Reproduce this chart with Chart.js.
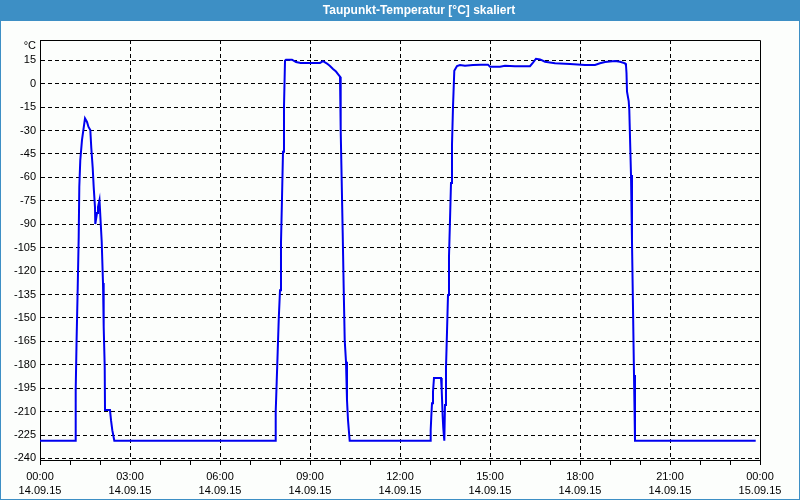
<!DOCTYPE html>
<html><head><meta charset="utf-8">
<script src="https://cdn.jsdelivr.net/npm/chart.js@4"></script>
<style>html,body{margin:0;padding:0;background:#fcfefc}#wrap{width:800px;height:500px;position:relative}</style>
</head><body><div id="wrap"><canvas id="c" width="800" height="500"></canvas></div>
<script>
const titleText = 'Taupunkt-Temperatur [°C] skaliert';
const unitLabel = '°C';

// time in hours since 14.09.15 00:00
const hours = [
  0, 1.19, 1.19, 1.22, 1.257, 1.29, 1.31, 1.343, 1.4, 1.5,
  1.567, 1.617, 1.677, 1.71, 1.757, 1.79, 1.833, 1.843, 1.9, 1.933,
  1.983, 2.057, 2.1, 2.123, 2.157, 2.167, 2.333, 2.367, 2.41, 2.477,
  7.857, 7.857, 7.89, 7.923, 7.957, 8.0, 8.033, 8.067, 8.1, 8.133,
  8.167, 8.2, 8.4, 8.533, 8.69, 9.333, 9.433, 9.567, 9.667, 9.767,
  9.867, 9.933, 10.0, 10.023, 10.057, 10.09, 10.123, 10.157, 10.2, 10.233,
  10.267, 10.323,
  13.023, 13.023, 13.043, 13.067, 13.1, 13.133, 13.367, 13.39, 13.423, 13.443,
  13.477, 13.5, 13.533, 13.567, 13.6, 13.633, 13.667, 13.7, 13.733, 13.767,
  13.81, 13.843, 13.9, 14.0, 14.167, 14.433, 14.7, 14.933, 15.0, 15.333,
  15.5, 15.833, 16.333, 16.433, 16.533, 16.667, 16.833, 17.167, 17.667, 18.167,
  18.5, 18.667, 18.833, 19.167, 19.333, 19.5, 19.533, 19.55, 19.567, 19.623,
  19.643, 19.7, 19.733, 19.767, 19.8, 19.833, 23.857
];
const dewpoint = [
  -228.7, -228.7, -196.2, -163.6, -130.9, -98, -66, -48.9, -36, -22.2,
  -24.5, -27.7, -29.7, -41.2, -54, -66.2, -79, -89.9, -82.8, -79,
  -74.5, -101.2, -127.7, -155.7, -181.3, -209, -209, -215.5, -221.9, -228.7,
  -228.7, -210.1, -190.9, -171.7, -151.4, -132.2, -102, -73.2, -43.6, -14.7,
  14.7, 15.4, 15.4, 13.9, 13.3, 13.3, 14.4, 12.9, 11.3, 9.4,
  7.8, 6.2, 4.5, -29.7, -62.8, -95.6, -130.9, -164.2, -178.1, -202.6,
  -215.5, -228.7,
  -228.7, -221.9, -213.3, -204.6, -197.3, -188.5, -188.5, -196.2, -213.3, -220.6,
  -228.6, -205.8, -182.1, -158.9, -135.4, -110.8, -87.3, -63.6, -39.3, -14.7,
  8.3, 9.4, 11.3, 12.0, 11.5, 12.0, 12.2, 12.2, 10.9, 10.9,
  11.5, 11.2, 11.2, 13.5, 16.0, 15.6, 14.1, 13.1, 12.6, 12.0,
  12.0, 13.1, 13.9, 14.6, 14.1, 13.1, 11.8, 6.9, -5.1, -11.1,
  -16.8, -58.5, -101.2, -143.9, -186.6, -228.7, -228.7
];

const yTickValues = [15, 0, -15, -30, -45, -60, -75, -90, -105, -120, -135, -150, -165, -180, -195, -210, -225, -240];
const xTickHours = [0,1,2,3,4,5,6,7,8,9,10,11,12,13,14,15,16,17,18,19,20,21,22,23,24];
const xTimeLabels = ['00:00','03:00','06:00','09:00','12:00','15:00','18:00','21:00','00:00'];
const xDateLabels = ['14.09.15','14.09.15','14.09.15','14.09.15','14.09.15','14.09.15','14.09.15','14.09.15','15.09.15'];

const BLUE = '#3d8fc5';
const tickFont = {family: '"Liberation Sans", Arial, sans-serif', size: 11, lineHeight: 1.3};

const framePlugin = {
  id: 'frame',
  beforeDraw(chart) {
    const ctx = chart.ctx;
    ctx.save();
    ctx.fillStyle = '#fcfefc';
    ctx.fillRect(0, 0, 800, 500);
    ctx.fillStyle = BLUE;
    ctx.fillRect(0, 0, 800, 21);
    ctx.strokeStyle = BLUE;
    ctx.lineWidth = 1;
    ctx.strokeRect(0.5, 0.5, 799, 499);
    ctx.fillStyle = '#ffffff';
    ctx.font = 'bold 12px "Liberation Sans", Arial, sans-serif';
    ctx.textAlign = 'center';
    ctx.textBaseline = 'middle';
    ctx.fillText(titleText, 419, 11);
    ctx.restore();
  },
  beforeDatasetsDraw(chart) {
    const {ctx, chartArea: a} = chart;
    ctx.save();
    ctx.strokeStyle = '#000';
    ctx.lineWidth = 1;
    ctx.setLineDash([]);
    ctx.beginPath();
    ctx.moveTo(Math.round(a.left) + 0.5, Math.round(a.top) + 0.5);
    ctx.lineTo(Math.round(a.right) + 0.5, Math.round(a.top) + 0.5);
    ctx.lineTo(Math.round(a.right) + 0.5, Math.round(a.bottom) + 0.5);
    ctx.stroke();
    ctx.fillStyle = '#000';
    ctx.font = '11px "Liberation Sans", Arial, sans-serif';
    ctx.textAlign = 'right';
    ctx.textBaseline = 'middle';
    ctx.fillText(unitLabel, a.left - 4, a.top + 6);
    ctx.restore();
  }
};

new Chart(document.getElementById('c'), {
  type: 'line',
  data: {
    datasets: [{
      data: hours.map((h, i) => ({x: h, y: dewpoint[i]})),
      borderColor: '#0000f0',
      borderWidth: 2,
      pointRadius: 0,
      tension: 0,
      fill: false
    }]
  },
  options: {
    responsive: false,
    animation: false,
    devicePixelRatio: 1,
    layout: {padding: {top: 40, right: 40, left: 0, bottom: 0}},
    plugins: {legend: {display: false}, tooltip: {enabled: false}, title: {display: false}},
    scales: {
      x: {
        type: 'linear', min: 0, max: 24,
        afterBuildTicks: s => { s.ticks = xTickHours.map(v => ({value: v})); },
        afterFit: s => { s.height = 40; },
        ticks: {
          autoSkip: false, maxRotation: 0, minRotation: 0, padding: 5,
          color: '#000', font: tickFont,
          callback: v => (v % 3 === 0) ? [xTimeLabels[v / 3], xDateLabels[v / 3]] : ''
        },
        grid: {
          color: c => (c.tick && c.tick.value % 3 === 0 && c.tick.value > 0 && c.tick.value < 24) ? '#000' : 'rgba(0,0,0,0)',
          tickColor: '#000', tickLength: 5, lineWidth: 1, drawTicks: true
        },
        border: {display: true, color: '#000', width: 1, dash: [4, 3]}
      },
      y: {
        type: 'linear', min: -241, max: 28,
        afterBuildTicks: s => { s.ticks = yTickValues.map(v => ({value: v})); },
        afterFit: s => { s.width = 40; },
        ticks: {color: '#000', font: tickFont, padding: 4, callback: v => String(v)},
        grid: {color: '#000', drawTicks: false, tickLength: 0, lineWidth: 1},
        border: {display: true, color: '#000', width: 1, dash: [4, 3]}
      }
    }
  },
  plugins: [framePlugin]
});
</script>
</body></html>
